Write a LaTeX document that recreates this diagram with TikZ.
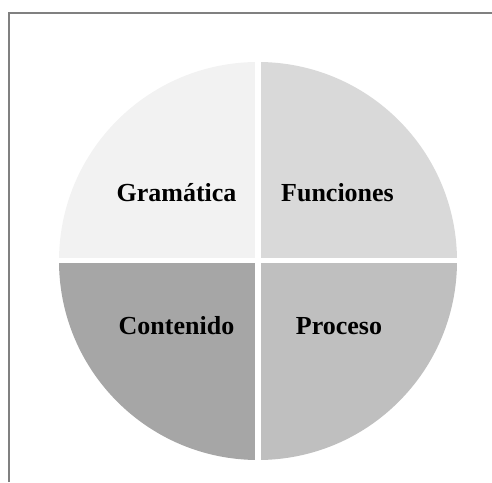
\documentclass[tikz,border=0pt]{standalone}
\usepackage{fontspec}
\setmainfont{Liberation Serif}
\usepackage{tikz}
\usetikzlibrary{positioning}
\definecolor{gramfill}{HTML}{F2F2F2}
\definecolor{funcfill}{HTML}{D9D9D9}
\definecolor{contfill}{HTML}{A6A6A6}
\definecolor{procfill}{HTML}{BFBFBF}
\definecolor{framegray}{HTML}{808080}
\tikzset{
  quarter/.style={draw=none},
  piecelabel/.style={anchor=base, font=\fontsize{26}{30}\selectfont\bfseries, inner sep=0pt},
  gap/.style={draw=white, line width=5.5pt},
}

\begin{document}
\begin{tikzpicture}[x=1pt, y=1pt]
  \useasboundingbox (0,0) rectangle (492,482);
  \draw [framegray, line width=2pt] (8.5,0) -- (8.5,468.5) -- (492,468.5);
  \coordinate (O) at (258,221);
  \fill [quarter, gramfill] (O) -- ++(-199,0) arc [start angle=180, end angle=90, radius=199] -- cycle;
  \fill [quarter, funcfill] (O) -- ++(0,199) arc [start angle=90, end angle=0, radius=199] -- cycle;
  \fill [quarter, procfill] (O) -- ++(199,0) arc [start angle=0, end angle=-90, radius=199] -- cycle;
  \fill [quarter, contfill] (O) -- ++(0,-199) arc [start angle=-90, end angle=-180, radius=199] -- cycle;
  \coordinate (N) at (258,427);
  \coordinate (S) at (258,15);
  \coordinate (W) at (52,221.5);
  \coordinate (E) at (464,221.5);
  \draw [gap] (N) -- (S);
  \draw [gap] (W) -- (E);
  \node [piecelabel] (gram) at (176.5,280) {Gramática};
  \node [piecelabel] (func) at (337.5,280) {Funciones};
  \node [piecelabel] (cont) at (176.5,147) {Contenido};
  \node [piecelabel] (proc) at (339,147) {Proceso};
\end{tikzpicture}
\end{document}
